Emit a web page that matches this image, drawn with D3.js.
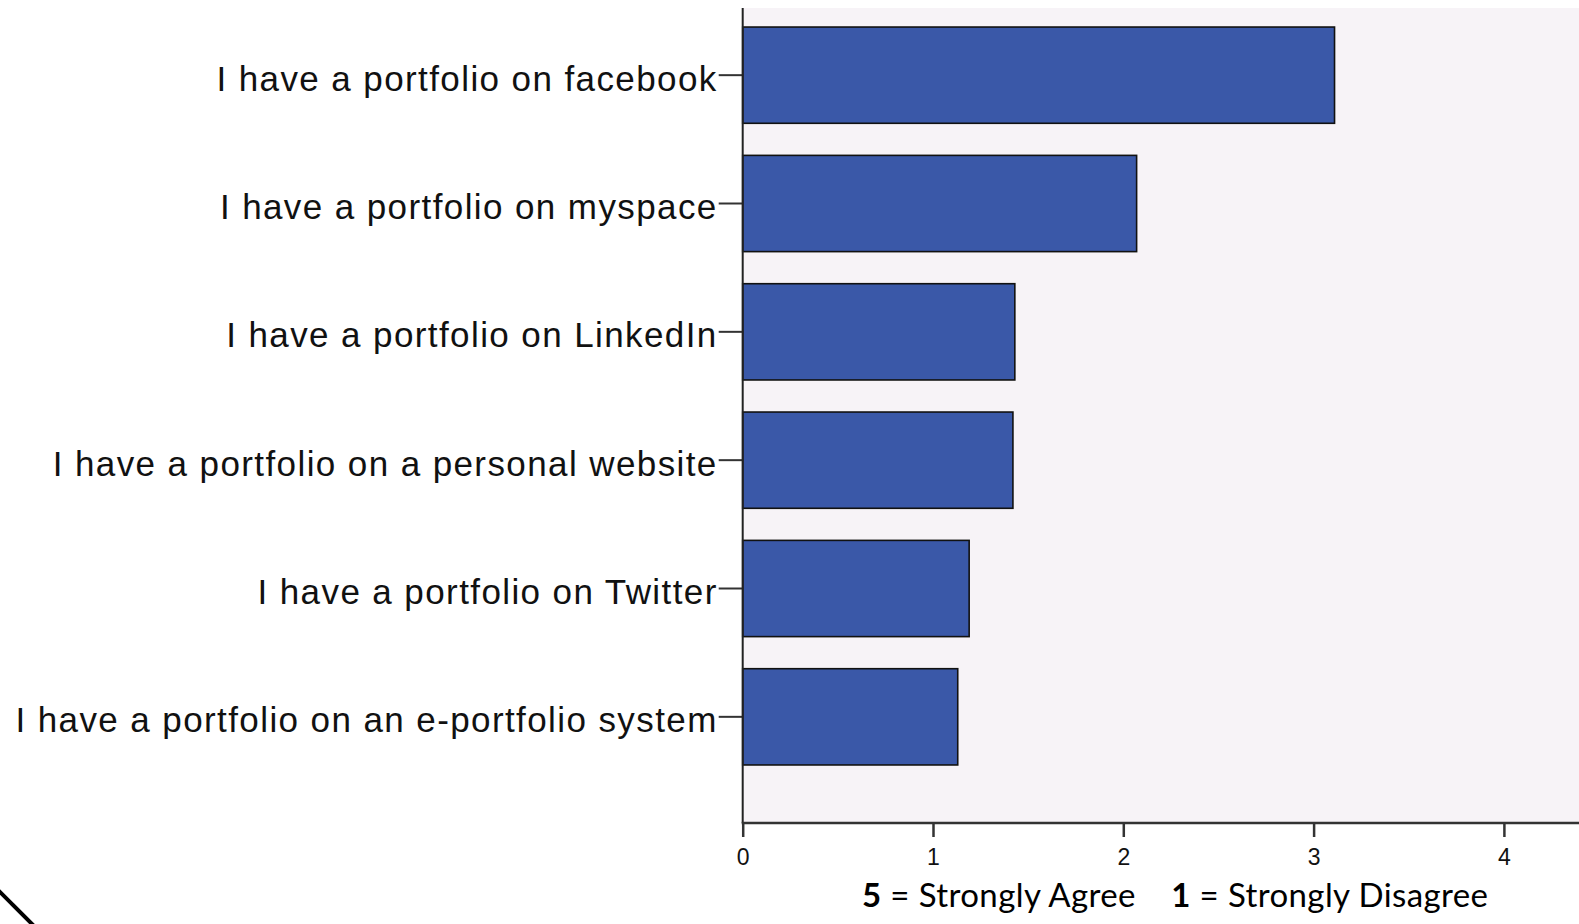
<!DOCTYPE html>
<html>
<head>
<meta charset="utf-8">
<script src="https://cdn.jsdelivr.net/npm/d3@7"></script>
<style>
  html, body { margin: 0; padding: 0; background: #ffffff; }
  svg { display: block; }
</style>
</head>
<body>
<svg id="chart" width="1579" height="924"></svg>
<script>
const categories = [
  "I have a portfolio on facebook",
  "I have a portfolio on myspace",
  "I have a portfolio on LinkedIn",
  "I have a portfolio on a personal website",
  "I have a portfolio on Twitter",
  "I have a portfolio on an e-portfolio system"
];
const values = [3.11, 2.07, 1.43, 1.42, 1.19, 1.13];
const xTicks = [0, 1, 2, 3, 4];
const footerParts = [
  {text: "5", bold: true},
  {text: " = Strongly Agree    ", bold: false},
  {text: "1", bold: true},
  {text: " = Strongly Disagree", bold: false}
];

const W = 1579, H = 924;
const svg = d3.select("#chart");

const plotLeft = 742.7, plotTop = 8, plotBottom = 823;

const x = d3.scaleLinear().domain([0, 5]).range([plotLeft, plotLeft + 5 * 190.3]);
const y = d3.scaleBand().domain(categories).range([11, 781]).paddingInner(0.25).paddingOuter(0.125);

// plot background
svg.append("rect")
  .attr("x", plotLeft).attr("y", plotTop)
  .attr("width", W - plotLeft).attr("height", plotBottom - plotTop)
  .attr("fill", "#f7f3f7");

// bars
svg.append("g").selectAll("rect")
  .data(categories)
  .join("rect")
  .attr("x", x(0))
  .attr("y", d => y(d))
  .attr("width", (d, i) => x(values[i]) - x(0))
  .attr("height", y.bandwidth())
  .attr("fill", "#3a58a8")
  .attr("stroke", "#111111")
  .attr("stroke-width", 1.6);

// y axis
const yAxis = d3.axisLeft(y).tickSize(24).tickPadding(1).tickSizeOuter(0);
const gy = svg.append("g").attr("transform", `translate(${plotLeft},0)`).call(yAxis)
  .attr("font-family", null).attr("font-size", null);
gy.select(".domain").remove();
gy.selectAll(".tick line").attr("stroke", "#333").attr("stroke-width", 2);
gy.selectAll(".tick text")
  .style("font-family", "'Liberation Sans', Arial, Helvetica, sans-serif")
  .style("font-size", "35px")
  .style("letter-spacing", "1.4px")
  .attr("fill", "#111")
  .attr("dy", "0.44em");
svg.append("line")
  .attr("x1", plotLeft).attr("x2", plotLeft)
  .attr("y1", plotTop).attr("y2", plotBottom)
  .attr("stroke", "#222").attr("stroke-width", 2);

// x axis
const xAxis = d3.axisBottom(x).tickValues(xTicks).tickFormat(d3.format("d")).tickSize(14).tickPadding(12).tickSizeOuter(0);
const gx = svg.append("g").attr("transform", `translate(0,${plotBottom})`).call(xAxis)
  .attr("font-family", null).attr("font-size", null);
gx.select(".domain").remove();
gx.selectAll(".tick line").attr("stroke", "#333").attr("stroke-width", 2.5);
gx.selectAll(".tick text")
  .style("font-family", "'Liberation Sans', Arial, Helvetica, sans-serif")
  .style("font-size", "23px")
  .attr("fill", "#111");
svg.append("line")
  .attr("x1", plotLeft - 1).attr("x2", W)
  .attr("y1", plotBottom).attr("y2", plotBottom)
  .attr("stroke", "#333").attr("stroke-width", 2.5);

// footer
const ft = svg.append("text")
  .attr("x", 862).attr("y", 907)
  .attr("textLength", 626)
  .attr("lengthAdjust", "spacing")
  .style("font-family", "Lato, 'Open Sans', sans-serif")
  .style("font-size", "33px")
  .attr("fill", "#000")
  .attr("xml:space", "preserve")
  .style("white-space", "pre");
ft.selectAll("tspan").data(footerParts).join("tspan")
  .attr("font-weight", d => d.bold ? "bold" : "normal")
  .text(d => d.text);

// corner stroke
svg.append("line")
  .attr("x1", -10).attr("y1", 882).attr("x2", 44).attr("y2", 936)
  .attr("stroke", "#000").attr("stroke-width", 4);
</script>
</body>
</html>
